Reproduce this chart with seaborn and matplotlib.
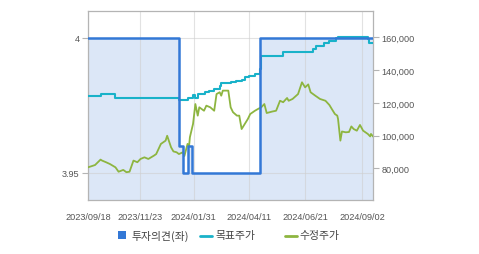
import matplotlib
matplotlib.use("Agg")
import matplotlib.pyplot as plt
import seaborn as sns
import pandas as pd
from matplotlib.patches import Rectangle
from matplotlib.lines import Line2D

# ---------------- data ----------------
opinion_dates = ["2023-09-18", "2024-01-12", "2024-01-17", "2024-01-24",
                 "2024-01-29", "2024-04-25", "2024-09-16"]
opinion_values = [4.0, 3.96, 3.95, 3.96, 3.95, 4.0, 4.0]

target_dates = ["2023-09-18", "2023-10-04", "2023-10-23", "2024-01-12", "2024-01-22",
                "2024-01-24", "2024-01-29", "2024-01-30", "2024-02-01", "2024-02-05",
                "2024-02-14", "2024-02-19", "2024-02-26", "2024-03-04", "2024-03-06",
                "2024-03-18", "2024-03-25", "2024-04-01", "2024-04-05", "2024-04-11",
                "2024-04-18", "2024-04-24", "2024-04-25", "2024-04-26", "2024-05-24",
                "2024-07-01", "2024-07-05", "2024-07-15", "2024-07-22", "2024-07-30",
                "2024-08-02", "2024-09-09", "2024-09-10", "2024-09-16"]
target_values = [124400, 125500, 123200, 122000, 121800,
                 123000, 122800, 124600, 123200, 125400,
                 126500, 127500, 128500, 130500, 132000,
                 132600, 133600, 134200, 135600, 136600,
                 137700, 138700, 140700, 148900, 151300,
                 153000, 155000, 156500, 158000, 159500,
                 160000, 159200, 156800, 156500]

price_dates = ["2023-09-18", "2023-09-22", "2023-09-27", "2023-10-04", "2023-10-06",
               "2023-10-11", "2023-10-16", "2023-10-23", "2023-10-27", "2023-11-02",
               "2023-11-06", "2023-11-10", "2023-11-15", "2023-11-20", "2023-11-24",
               "2023-11-29", "2023-12-04", "2023-12-11", "2023-12-14", "2023-12-20",
               "2023-12-26", "2023-12-28", "2024-01-02", "2024-01-05", "2024-01-09",
               "2024-01-12", "2024-01-17", "2024-01-19", "2024-01-23", "2024-01-25",
               "2024-01-26", "2024-01-30", "2024-02-02", "2024-02-05", "2024-02-07",
               "2024-02-13", "2024-02-16", "2024-02-21", "2024-02-26", "2024-02-29",
               "2024-03-04", "2024-03-06", "2024-03-08", "2024-03-15", "2024-03-18",
               "2024-03-21", "2024-03-26", "2024-03-29", "2024-04-01", "2024-04-05",
               "2024-04-09", "2024-04-12", "2024-04-18", "2024-04-22", "2024-04-26",
               "2024-04-30", "2024-05-03", "2024-05-10", "2024-05-15", "2024-05-20",
               "2024-05-24", "2024-05-29", "2024-05-31", "2024-06-05", "2024-06-12",
               "2024-06-17", "2024-06-21", "2024-06-25", "2024-06-28", "2024-07-04",
               "2024-07-10", "2024-07-17", "2024-07-22", "2024-07-25", "2024-07-29",
               "2024-08-01", "2024-08-02", "2024-08-05", "2024-08-07", "2024-08-12",
               "2024-08-16", "2024-08-19", "2024-08-22", "2024-08-26", "2024-08-30",
               "2024-09-03", "2024-09-09", "2024-09-12", "2024-09-13", "2024-09-16"]
price_values = [80600, 81200, 82000, 85300, 84700,
                83700, 82600, 80600, 77900, 79000,
                77600, 77900, 84700, 83700, 85700,
                86700, 85700, 87700, 88700, 94900,
                96900, 99900, 92800, 90300, 89800,
                88700, 89800, 87500, 94900, 93800,
                99000, 107100, 119300, 112200, 117300,
                115200, 118300, 117300, 115200, 125400,
                126500, 124400, 127500, 127500, 117300,
                114300, 112200, 112200, 104000, 107100,
                110200, 113200, 115200, 116300, 117300,
                119300, 113800, 114700, 115200, 121300,
                120400, 123000, 121300, 122400, 125400,
                132600, 129500, 131300, 126500, 124400,
                122400, 121300, 118700, 116300, 113200,
                112200, 110200, 96900, 102500, 102000,
                102200, 105600, 104000, 103000, 106500,
                103000, 101000, 99500, 101000, 99300]

x_ticks = ["2023-09-18", "2023-11-23", "2024-01-31", "2024-04-11", "2024-06-21", "2024-09-02"]
x_tick_labels = ["2023/09/18", "2023/11/23", "2024/01/31", "2024/04/11", "2024/06/21", "2024/09/02"]
left_ticks = [3.95, 4.0]
left_tick_labels = ["3.95", "4"]
right_ticks = [80000, 100000, 120000, 140000, 160000]
right_tick_labels = ["80,000", "100,000", "120,000", "140,000", "160,000"]
legend_labels = ["투자의견(좌)", "목표주가", "수정주가"]

# ---------------- style ----------------
sns.set_style("white")
plt.rcParams['font.family'] = ['Liberation Sans', 'DejaVu Sans']

C_OP = "#3378d6"
C_FILL = "#dce7f7"
C_TGT = "#19b2c9"
C_PRC = "#8db540"
C_SPINE = "#b4b4b4"
C_TXT = "#555555"

op = pd.DataFrame({"date": pd.to_datetime(opinion_dates), "v": opinion_values})
tg = pd.DataFrame({"date": pd.to_datetime(target_dates), "v": target_values})
pr = pd.DataFrame({"date": pd.to_datetime(price_dates), "v": price_values})

fig = plt.figure(figsize=(4.79, 2.55), dpi=100)
ax = fig.add_axes([88/479, 1-201/255, (373.3-88)/479, (201-12)/255])
ax2 = ax.twinx()
ax3 = ax.twinx()

xmin, xmax = pd.Timestamp("2023-09-18"), pd.Timestamp("2024-09-16")
lo_l, hi_l = 3.94, 4.01
lo_r, hi_r = 60600, 176200

# fill under opinion
ax.fill_between(op["date"], op["v"], lo_l, step="post", color=C_FILL, lw=0, zorder=0.2)
ax.set_xlim(xmin, xmax)
ax.set_ylim(lo_l, hi_l)
ax.set_axisbelow(True)
ax.grid(True, color="#cfcfcf", lw=0.8, alpha=0.6)
ax.set_xticks(pd.to_datetime(x_ticks))
ax.set_xticklabels(x_tick_labels)
ax.set_yticks(left_ticks)
ax.set_yticklabels(left_tick_labels)
ax.tick_params(axis="both", labelsize=6.6, colors=C_SPINE, labelcolor=C_TXT,
               length=4, width=0.8, direction="out", pad=2)
ax.tick_params(axis="x", pad=5)

# prices on right axis
sns.lineplot(data=pr, x="date", y="v", ax=ax2, color=C_PRC, lw=1.3, estimator=None, sort=True)
sns.lineplot(data=tg, x="date", y="v", ax=ax2, color=C_TGT, lw=1.5, estimator=None,
             drawstyle="steps-post")
ax2.set_xlim(xmin, xmax)
ax2.set_ylim(lo_r, hi_r)
ax2.set_yticks(right_ticks)
ax2.set_yticklabels(right_tick_labels)
ax2.set_ylabel("")
ax2.set_xlabel("")
ax2.tick_params(axis="y", labelsize=6.6, colors=C_SPINE, labelcolor=C_TXT,
                length=4, width=0.8, direction="out", pad=2, right=True)

# opinion line on top
sns.lineplot(data=op, x="date", y="v", ax=ax3, color=C_OP, lw=1.8, estimator=None,
             drawstyle="steps-post")
ax3.set_xlim(xmin, xmax)
ax3.set_ylim(lo_l, hi_l)
ax3.set_yticks([])
ax3.set_ylabel("")
ax3.set_xlabel("")

for s in ax.spines.values():
    s.set_color(C_SPINE)
    s.set_linewidth(0.9)
for a in (ax2, ax3):
    for s in a.spines.values():
        s.set_visible(False)
ax.set_xlabel("")
ax.set_ylabel("")

# legend (manual, figure pixel coordinates)
def fx(px):
    return px / 479
def fy(py):
    return 1 - py / 255

kfont = ['Noto Sans CJK KR', 'DejaVu Sans']
fig.patches.append(Rectangle((fx(117.5), fy(239.5)), 8/479, 8/255, transform=fig.transFigure,
                             color=C_OP, lw=0))
fig.text(fx(131), fy(236), legend_labels[0], fontsize=7.8, family=kfont, color="#444444", va="center")
fig.lines.append(Line2D([fx(200), fx(212)], [fy(236.5), fy(236.5)], transform=fig.transFigure,
                        color=C_TGT, lw=2))
fig.text(fx(215.5), fy(236), legend_labels[1], fontsize=7.8, family=kfont, color="#444444", va="center")
fig.lines.append(Line2D([fx(285), fx(297)], [fy(236.5), fy(236.5)], transform=fig.transFigure,
                        color=C_PRC, lw=2))
fig.text(fx(299), fy(236), legend_labels[2], fontsize=7.8, family=kfont, color="#444444", va="center")

fig.savefig("out.png", dpi=100)
